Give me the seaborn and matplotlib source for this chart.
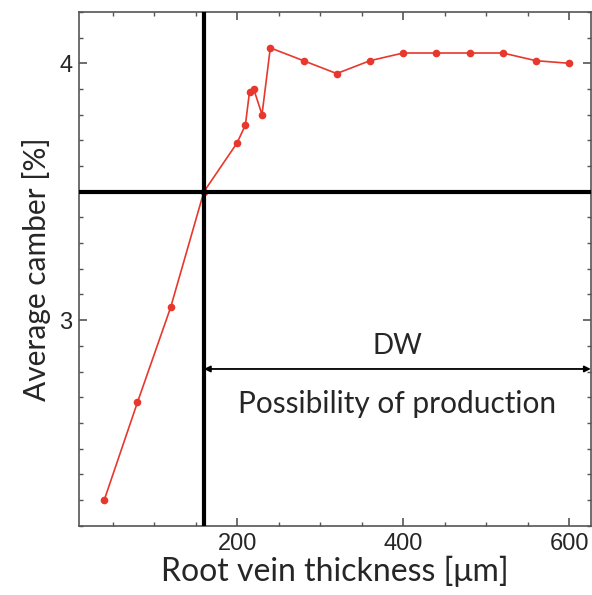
import matplotlib
matplotlib.use("Agg")
import matplotlib.pyplot as plt
from matplotlib.ticker import MultipleLocator
import seaborn as sns
import pandas as pd

# data
thickness = [40, 80, 120, 160, 200, 210, 215, 220, 230, 240, 280, 320, 360, 400, 440, 480, 520, 560, 600]
camber = [2.30, 2.68, 3.05, 3.50, 3.69, 3.76, 3.89, 3.90, 3.80, 4.06, 4.01, 3.96, 4.01, 4.04, 4.04, 4.04, 4.04, 4.01, 4.00]
threshold_x = 160
threshold_y = 3.5
x_range = [10, 626]
y_range = [2.2, 4.2]

df = pd.DataFrame({"thickness": thickness, "camber": camber})

sns.set_theme(style="ticks")
# tick numbers in an Arial-like face, labels in a Calibri-like face
plt.rcParams['font.family'] = ['Liberation Sans', 'DejaVu Sans']
label_font = ['Lato', 'DejaVu Sans']

fig = plt.figure(figsize=(5.92, 5.95), dpi=100)
ax = fig.add_axes([0.134, 0.1165, 0.864, 0.8635])

sns.lineplot(data=df, x="thickness", y="camber", ax=ax, color="#e8372c",
             marker="o", markersize=5.5, markeredgewidth=0, linewidth=1.2, zorder=3)

ax.axvline(threshold_x, color="black", linewidth=3, zorder=4)
ax.axhline(threshold_y, color="black", linewidth=3, zorder=4)

# DW arrow
arrow_y = 2.81
ax.annotate("", xy=(threshold_x, arrow_y), xytext=(x_range[1], arrow_y),
            arrowprops=dict(arrowstyle="<|-|>", color="black", lw=1.3,
                            mutation_scale=9, shrinkA=0, shrinkB=0))
mid_x = (threshold_x + x_range[1]) / 2
ax.text(mid_x, 2.90, "DW", ha="center", va="center", fontsize=20, family=label_font)
ax.text(mid_x, 2.675, "Possibility of production", ha="center", va="center",
        fontsize=21.5, family=label_font)

ax.set_xlim(x_range)
ax.set_ylim(y_range)
ax.xaxis.set_major_locator(MultipleLocator(200))
ax.xaxis.set_minor_locator(MultipleLocator(50))
ax.yaxis.set_major_locator(MultipleLocator(1))
ax.yaxis.set_minor_locator(MultipleLocator(0.1))
ax.tick_params(which="both", direction="in", top=True, right=True, color="#555555")
ax.tick_params(which="major", length=6, width=1.2)
ax.tick_params(which="minor", length=3, width=1)
ax.tick_params(axis="both", labelsize=17, pad=5)
for s in ax.spines.values():
    s.set_color("#555555")
    s.set_linewidth(1.2)

ax.set_xlabel("Root vein thickness [μm]", fontsize=23, labelpad=1, family=label_font)
ax.set_ylabel("Average camber [%]", fontsize=21.5, labelpad=6, family=label_font)

fig.savefig("out.png", dpi=100)
